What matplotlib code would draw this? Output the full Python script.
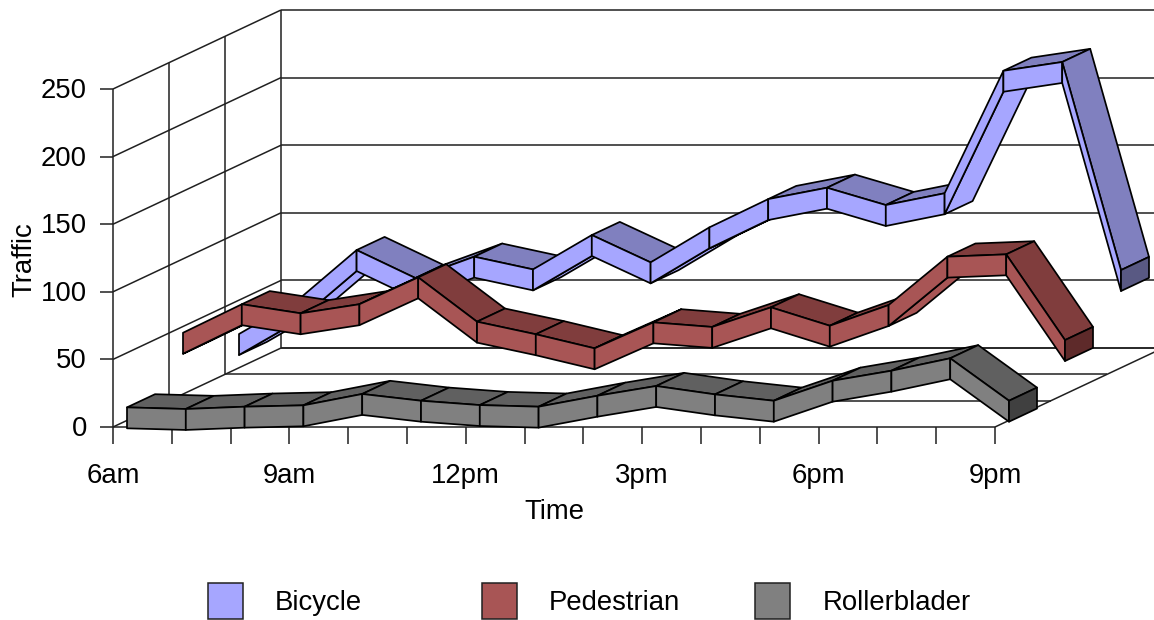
import matplotlib
matplotlib.use("Agg")
import matplotlib.pyplot as plt
from matplotlib.patches import Polygon, Rectangle

plt.rcParams['font.family'] = ['Liberation Sans', 'DejaVu Sans']

# --- DATA ---
TIME_LABELS = ['6am', '9am', '12pm', '3pm', '6pm', '9pm']
TRAFFIC_TICKS = [0, 50, 100, 150, 200, 250]
SERIES_NAMES = ['Bicycle', 'Pedestrian', 'Rollerblader']

bicycle = [17.2, 42.3, 79.3, 58.6, 74.4, 65.0, 90.4, 70.2, 96.1, 117.0, 125.4, 112.6, 121.3, 211.9, 218.4, 64.5]
pedestrian = [37.6, 58.7, 52.0, 58.7, 78.6, 45.8, 36.5, 26.1, 45.3, 41.9, 56.4, 42.8, 58.1, 93.9, 95.6, 32.2]
rollerblader = [1.9, 0.7, 2.4, 3.4, 11.8, 6.8, 3.6, 2.4, 10.5, 17.7, 11.5, 6.8, 21.6, 29.0, 38.2, 6.8]

# --- GEOMETRY (pixels) ---
ORIGIN_X, ORIGIN_Y = 113.0, 427.0
STEP_X = 58.8          # one hour along the time axis
PX_PER_UNIT = 1.352    # traffic -> pixels
DEPTH_X, DEPTH_Y = 56.0, -26.33  # one series row going back
N_DEPTH = 3
THICKNESS = 15.5       # ribbon height in traffic units
FONT_SIZE = 19.8

# (front, top, end cap)
COLORS = {
    'Bicycle': ('#A6A6FF', '#8080BF', '#595983'),
    'Pedestrian': ('#A85555', '#803D3D', '#5E2A2A'),
    'Rollerblader': ('#808080', '#606060', '#404040'),
}


def proj(t, v, d):
    """ time index, traffic value, depth row -> pixel position """
    return (ORIGIN_X + t * STEP_X + d * DEPTH_X,
            ORIGIN_Y - v * PX_PER_UNIT + d * DEPTH_Y)


def line(ax, a, b, color='#202020', lw=1.1):
    ax.plot([a[0], b[0]], [a[1], b[1]], color=color, lw=lw, solid_capstyle='butt', zorder=1)


def face(ax, pts, color):
    ax.add_patch(Polygon(pts, closed=True, facecolor=color, edgecolor='black', lw=1.25,
                         joinstyle='round', zorder=2))


def draw_ribbon(ax, values, row, colors):
    front, top, cap = colors
    d0 = row + 0.25
    d1 = row + 0.75
    h = THICKNESS / 2
    depth_slope = -DEPTH_Y / DEPTH_X

    for i in range(len(values) - 1):
        v0, v1 = values[i], values[i + 1]
        rise = (v1 - v0) * PX_PER_UNIT / STEP_X
        if rise > depth_slope:
            # steep climb: we see the underside of the ribbon
            face(ax, [proj(i, v0 - h, d0), proj(i + 1, v1 - h, d0),
                      proj(i + 1, v1 - h, d1), proj(i, v0 - h, d1)], front)
        else:
            face(ax, [proj(i, v0 + h, d0), proj(i + 1, v1 + h, d0),
                      proj(i + 1, v1 + h, d1), proj(i, v0 + h, d1)], top)
        face(ax, [proj(i, v0 + h, d0), proj(i + 1, v1 + h, d0),
                  proj(i + 1, v1 - h, d0), proj(i, v0 - h, d0)], front)

    last = len(values) - 1
    face(ax, [proj(last, values[last] + h, d0), proj(last, values[last] + h, d1),
              proj(last, values[last] - h, d1), proj(last, values[last] - h, d0)], cap)


fig = plt.figure(figsize=(11.54, 6.2), dpi=100)
ax = fig.add_axes([0, 0, 1, 1])
ax.set_xlim(0, 1154)
ax.set_ylim(620, 0)
ax.axis('off')

n_steps = len(bicycle) - 1
top_value = TRAFFIC_TICKS[-1]

# back wall and side wall gridlines
for v in TRAFFIC_TICKS:
    line(ax, proj(0, v, 0), proj(0, v, N_DEPTH))
    line(ax, proj(0, v, N_DEPTH), proj(n_steps, v, N_DEPTH))
    line(ax, proj(0, v, 0), (proj(0, v, 0)[0] - 13, proj(0, v, 0)[1]))
    ax.text(proj(0, v, 0)[0] - 26, proj(0, v, 0)[1] + 2, str(v), ha='right', va='center', fontsize=FONT_SIZE)

# verticals on the side wall
for d in range(N_DEPTH + 1):
    line(ax, proj(0, 0, d), proj(0, top_value, d))

# floor
for d in range(N_DEPTH + 1):
    line(ax, proj(0, 0, d), proj(n_steps, 0, d))
line(ax, proj(n_steps, 0, 0), proj(n_steps, 0, N_DEPTH))

# time ticks
for i in range(n_steps + 1):
    x, y = proj(i, 0, 0)
    line(ax, (x, y), (x, y + 17))
for k, label in enumerate(TIME_LABELS):
    x, y = proj(k * 3, 0, 0)
    ax.text(x, y + 49, label, ha='center', va='center', fontsize=FONT_SIZE)

# ribbons, back to front
draw_ribbon(ax, bicycle, 2, COLORS['Bicycle'])
draw_ribbon(ax, pedestrian, 1, COLORS['Pedestrian'])
draw_ribbon(ax, rollerblader, 0, COLORS['Rollerblader'])

# axis titles
ax.text(554, 512, 'Time', ha='center', va='center', fontsize=FONT_SIZE)
ax.text(24, 260, 'Traffic', ha='center', va='center', rotation=90, fontsize=FONT_SIZE)

# legend
for name, sx, tx in zip(SERIES_NAMES, [208, 482, 755], [275, 549, 823]):
    ax.add_patch(Rectangle((sx, 583), 35, 36, facecolor=COLORS[name][0], edgecolor='#202020', lw=1.1))
    ax.text(tx, 603, name, ha='left', va='center', fontsize=FONT_SIZE)

fig.savefig('out.png', dpi=100)
